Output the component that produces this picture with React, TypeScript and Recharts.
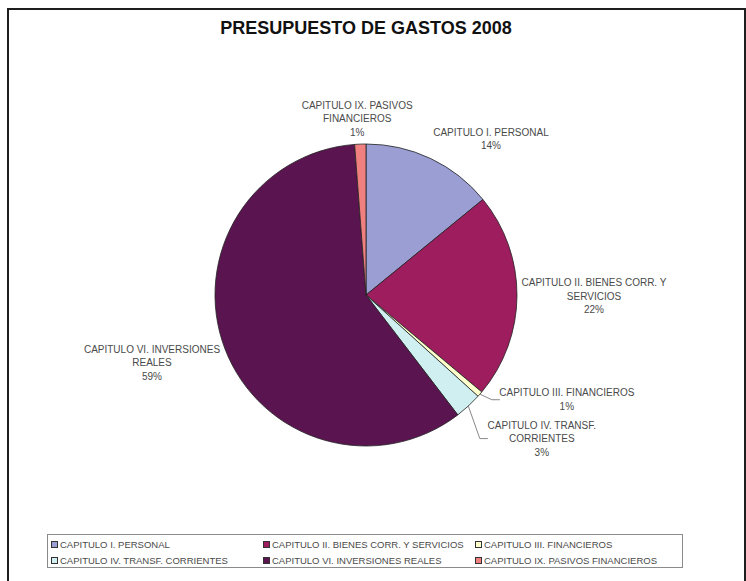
import React from 'react';
import { PieChart, Pie, Cell, Legend } from 'recharts';

const CATEGORIES = [
  'CAPITULO I. PERSONAL',
  'CAPITULO II. BIENES CORR. Y SERVICIOS',
  'CAPITULO III. FINANCIEROS',
  'CAPITULO IV. TRANSF. CORRIENTES',
  'CAPITULO VI. INVERSIONES REALES',
  'CAPITULO IX. PASIVOS FINANCIEROS',
];

// share of the 2008 budget, in %
const SHARES = [14.1, 22.0, 0.6, 2.9, 59.2, 1.2];

const COLORS = ['#9a9ed2', '#9e1d5e', '#ffffcc', '#cfeff0', '#5a1550', '#f08080'];

// Excel-style label placement: polar offset from each slice's mid angle
const LABEL_DR = [49, 77, 75.5, 76, 73.5, 25.7];
const LABEL_DA = [-13.3, 0.1, 13.5, 8.1, -3.3, 0.7];
const LABEL_WRAP = [22, 28, 26, 21, 25, 21];
const HAS_LEADER = [false, false, true, true, false, false];

const FONT = "Arial, 'Liberation Sans', sans-serif";
const LINE_H = 13.5;
const RAD = Math.PI / 180;

const data = CATEGORIES.map((name, i) => ({ name, value: SHARES[i] }));

const wrap = (text: string, max: number) => {
  const lines: string[] = [];
  let cur = '';
  text.split(' ').forEach((w) => {
    const next = cur ? cur + ' ' + w : w;
    if (next.length > max && cur) {
      lines.push(cur);
      cur = w;
    } else {
      cur = next;
    }
  });
  if (cur) lines.push(cur);
  return lines;
};

const renderLabel = (props: any) => {
  const { cx, cy, midAngle, outerRadius, index, percent } = props;
  const r = outerRadius + LABEL_DR[index];
  const a = midAngle + LABEL_DA[index];
  const x = cx + r * Math.cos(-a * RAD);
  const y = cy + r * Math.sin(-a * RAD);
  const lines = [...wrap(CATEGORIES[index], LABEL_WRAP[index]), `${Math.round(percent * 100)}%`];
  const y0 = y - ((lines.length - 1) * LINE_H) / 2;

  let leader = null;
  if (HAS_LEADER[index]) {
    const ex = cx + outerRadius * Math.cos(-midAngle * RAD);
    const ey = cy + outerRadius * Math.sin(-midAngle * RAD);
    const halfW = Math.max(...lines.map((l) => l.length)) * 2.6;
    const left = x - halfW;
    leader = (
      <polyline
        points={`${ex},${ey} ${left - 10},${y} ${left - 2},${y}`}
        fill="none"
        stroke="#888"
        strokeWidth={1}
      />
    );
  }

  return (
    <g key={`label-${index}`}>
      {leader}
      <text x={x} y={y0} textAnchor="middle" fontFamily={FONT} fontSize={10} fill="#4a4a4a">
        {lines.map((l, i) => (
          <tspan key={i} x={x} y={y0 + i * LINE_H} dominantBaseline="central">
            {l}
          </tspan>
        ))}
      </text>
    </g>
  );
};

const renderLegend = () => (
  <div
    style={{
      boxSizing: 'border-box',
      width: 636,
      height: 34,
      border: '1px solid #8a8a8a',
      display: 'grid',
      gridTemplateColumns: '212px 212px 212px',
      padding: '1px 0 0 3px',
      fontFamily: FONT,
      fontSize: 9.5,
      color: '#4a4a4a',
    }}
  >
    {CATEGORIES.map((c, i) => (
      <div key={c} style={{ display: 'flex', alignItems: 'center', height: 16, whiteSpace: 'nowrap' }}>
        <span
          style={{
            display: 'inline-block',
            width: 5,
            height: 5,
            border: '1px solid #333',
            background: COLORS[i],
            marginRight: 2,
          }}
        />
        {c}
      </div>
    ))}
  </div>
);

export default function App() {
  return (
    <div style={{ position: 'absolute', left: 0, top: 0, width: 746, height: 581, background: '#fff', overflow: 'hidden' }}>
      <div
        style={{
          position: 'absolute',
          left: 7,
          top: 8,
          width: 739,
          height: 573,
          boxSizing: 'border-box',
          borderTop: '2px solid #1e1e1e',
          borderLeft: '2px solid #1e1e1e',
          borderRight: '2px solid #1e1e1e',
        }}
      />
      <div
        style={{
          position: 'absolute',
          left: 0,
          top: 18,
          width: 732,
          lineHeight: '21px',
          textAlign: 'center',
          fontFamily: FONT,
          fontWeight: 'bold',
          fontSize: 18,
          color: '#111',
        }}
      >
        PRESUPUESTO DE GASTOS 2008
      </div>
      <div style={{ position: 'absolute', left: 0, top: 0 }}>
        <PieChart width={746} height={581} margin={{ top: 0, right: 0, bottom: 0, left: 0 }}>
          <Pie
            data={data}
            dataKey="value"
            nameKey="name"
            cx={366}
            cy={295}
            outerRadius={151}
            startAngle={90}
            endAngle={-270}
            stroke="#222"
            strokeWidth={0.8}
            label={renderLabel}
            labelLine={false}
            isAnimationActive={false}
          >
            {data.map((d, i) => (
              <Cell key={d.name} fill={COLORS[i]} />
            ))}
          </Pie>
          <Legend
            content={renderLegend}
            wrapperStyle={{ position: 'absolute', left: 47, top: 534, width: 636, height: 34 }}
          />
        </PieChart>
      </div>
    </div>
  );
}
